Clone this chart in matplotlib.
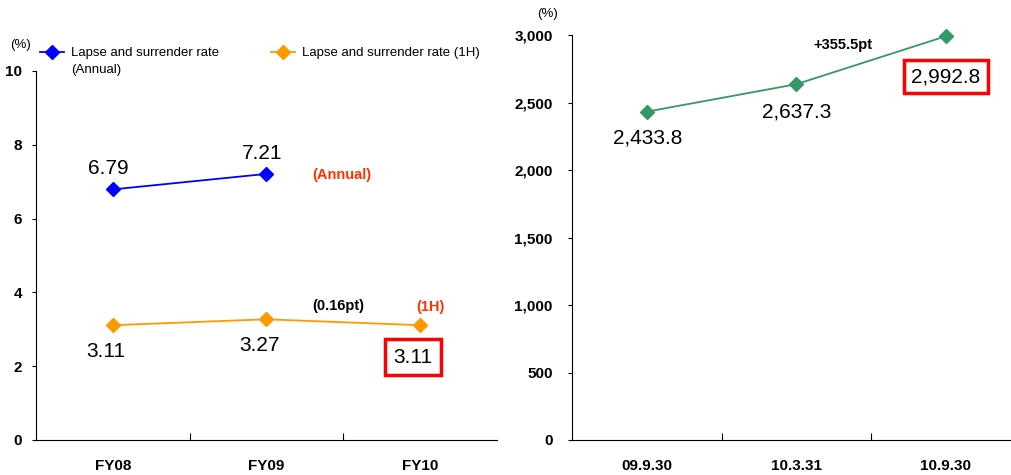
import matplotlib
matplotlib.use("Agg")
import matplotlib.pyplot as plt
from matplotlib.ticker import FuncFormatter

plt.rcParams["font.family"] = ["Liberation Sans", "DejaVu Sans"]

# left panel: lapse and surrender rate (%)
years = ["FY08", "FY09", "FY10"]
annual = [6.79, 7.21]
half = [3.11, 3.27, 3.11]

# right panel: solvency margin ratio (%)
dates = ["09.9.30", "10.3.31", "10.9.30"]
margin = [2433.8, 2637.3, 2992.8]

BLUE = "#0000FF"
ORANGE = "#FF9900"
RED_TXT = "#FF3300"
GREEN = "#339966"

fig = plt.figure(figsize=(10.11, 4.75), dpi=100)
axl = fig.add_axes([0.0356, 0.0737, 0.456, 0.777])
axr = fig.add_axes([0.5658, 0.0737, 0.4436, 0.852])


def style(ax, ncat, ypad):
    for s in ("top", "right"):
        ax.spines[s].set_visible(False)
    ax.set_xlim(0, ncat)
    ax.set_xticks(range(1, ncat))
    ax.set_xticklabels([])
    ax.tick_params(axis="x", direction="in", length=5)
    ax.tick_params(axis="x", which="minor", length=0, pad=14, labelsize=11)
    ax.tick_params(axis="y", direction="out", length=3, pad=ypad, labelsize=11)
    for lab in ax.get_yticklabels() + ax.get_xticklabels(minor=True):
        lab.set_fontweight("bold")


# ---- left
xl = [i + 0.5 for i in range(len(years))]
axl.plot(xl[:len(annual)], annual, color=BLUE, marker="D", ms=7, lw=1.3,
         label="Lapse and surrender rate")
axl.plot(xl, half, color=ORANGE, marker="D", ms=7, lw=1.3,
         label="Lapse and surrender rate (1H)")
axl.set_ylim(0, 10)
axl.set_yticks(range(0, 11, 2))
axl.set_xticks(xl, minor=True)
axl.set_xticklabels(years, minor=True)
style(axl, len(years), 7)

for x, v in zip(xl, annual):
    axl.annotate(f"{v:.2f}", (x, v), xytext=(-3, 15), textcoords="offset points",
                 ha="center", va="center", fontsize=15)
for i, (x, v) in enumerate(zip(xl, half)):
    bb = None
    if i == len(half) - 1:
        bb = dict(boxstyle="square,pad=0.4", fc="white", ec="red", lw=2.5)
    axl.annotate(f"{v:.2f}", (x, v), xytext=(-5, -19 if i < 2 else -23),
                 textcoords="offset points", ha="center", va="center",
                 fontsize=15, bbox=bb)
axl.text(1.99, 7.18, "(Annual)", color=RED_TXT, fontsize=10.5, fontweight="bold",
         ha="center", va="center")
axl.text(1.97, 3.63, "(0.16pt)", fontsize=10.5, fontweight="bold",
         ha="center", va="center")
axl.text(2.57, 3.6, "(1H)", color=RED_TXT, fontsize=10.5, fontweight="bold",
         ha="center", va="center")
fig.text(0.02, 0.905, "(%)", fontsize=9.5, ha="center", va="center")
leg = axl.legend(loc="lower left", bbox_to_anchor=(0.0065, 1.028), ncol=2,
                 frameon=False, fontsize=9.5, handlelength=1.8,
                 columnspacing=3.9, handletextpad=0.55,
                 borderaxespad=0.0, borderpad=0.1)
fig.text(0.0702, 0.852, "(Annual)", fontsize=9.5, ha="left", va="center")

# ---- right
xr = [i + 0.5 for i in range(len(dates))]
axr.plot(xr, margin, color=GREEN, marker="D", ms=7, lw=1.3, clip_on=False)
axr.set_ylim(0, 3000)
axr.set_yticks(range(0, 3001, 500))
axr.yaxis.set_major_formatter(FuncFormatter(lambda v, p: f"{v:,.0f}"))
axr.set_xticks(xr, minor=True)
axr.set_xticklabels(dates, minor=True)
style(axr, len(dates), 11)

offs = [(1, -19), (0, -20), (0, -29)]
for i, (x, v) in enumerate(zip(xr, margin)):
    bb = None
    if i == len(margin) - 1:
        bb = dict(boxstyle="square,pad=0.35", fc="white", ec="red", lw=2.5)
    axr.annotate(f"{v:,.1f}", (x, v), xytext=offs[i], textcoords="offset points",
                 ha="center", va="center", fontsize=15, bbox=bb)
axr.text(1.81, 2926, "+355.5pt", fontsize=10.5, fontweight="bold",
         ha="center", va="center")
fig.text(0.542, 0.97, "(%)", fontsize=9.5, ha="center", va="center")

fig.savefig("out.png", dpi=100)
